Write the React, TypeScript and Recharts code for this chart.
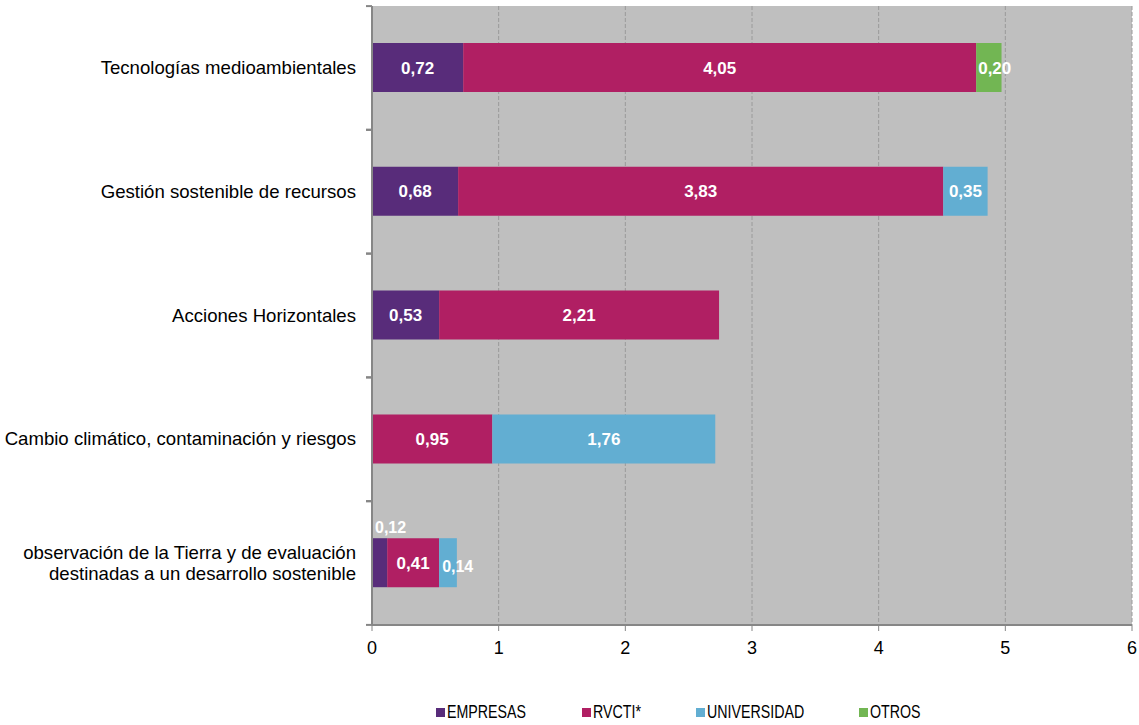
import React from 'react';
import { BarChart, Bar, XAxis, YAxis, CartesianGrid, Legend, LabelList } from 'recharts';

const categories = [
  'Tecnologías medioambientales',
  'Gestión sostenible de recursos',
  'Acciones Horizontales',
  'Cambio climático, contaminación y riesgos',
  'observación de la Tierra y de evaluación\ndestinadas a un desarrollo sostenible',
];
const empresas = [0.72, 0.68, 0.53, null, 0.12];
const rvcti = [4.05, 3.83, 2.21, 0.95, 0.41];
const universidad = [null, 0.35, null, 1.76, 0.14];
const otros = [0.2, null, null, null, null];
const xTicks = [0, 1, 2, 3, 4, 5, 6];

const seriesNames = ['EMPRESAS', 'RVCTI*', 'UNIVERSIDAD', 'OTROS'];
const colors = ['#582c7a', '#b01f63', '#62aed2', '#72b653'];
const legendWidths = [146, 114, 163, 80];

const data = categories.map((c, i) => ({
  cat: c,
  EMPRESAS: empresas[i],
  'RVCTI*': rvcti[i],
  UNIVERSIDAD: universidad[i],
  OTROS: otros[i],
}));

const FONT = '"Liberation Sans", Arial, sans-serif';
const fmt = (v: number) => v.toFixed(2).replace('.', ',');

const makeLabel = (mode: 'above' | 'right' | 'center' | 'start') => (props: any) => {
  const { x, y, width, height, value } = props;
  if (value == null || value === 0) return null;
  const nx = Number(x), ny = Number(y), nw = Number(width), nh = Number(height);
  const small = Number(value) < 0.15;
  if (small && mode === 'above') {
    return (
      <text x={nx + 3} y={ny - 5} fill="#fff" fontFamily={FONT} fontWeight="bold" fontSize={16} textAnchor="start">
        {fmt(value)}
      </text>
    );
  }
  if (small && mode === 'right') {
    return (
      <text x={nx + 3} y={ny + nh / 2 + 9.5} fill="#fff" fontFamily={FONT} fontWeight="bold" fontSize={16} textAnchor="start">
        {fmt(value)}
      </text>
    );
  }
  if (mode === 'start') {
    return (
      <text x={nx + 2} y={ny + nh / 2 + 6} fill="#fff" fontFamily={FONT} fontWeight="bold" fontSize={17} textAnchor="start">
        {fmt(value)}
      </text>
    );
  }
  return (
    <text x={nx + nw / 2} y={ny + nh / 2 + 6} fill="#fff" fontFamily={FONT} fontWeight="bold" fontSize={17} textAnchor="middle">
      {fmt(value)}
    </text>
  );
};

const YTick = (props: any) => {
  const { x, y, payload } = props;
  const lines = String(payload.value).split('\n');
  const lh = 21;
  const start = y - ((lines.length - 1) * lh) / 2;
  const ax = x + 16;
  return (
    <g>
      <line x1={ax - 6} x2={ax} y1={y - 61.8} y2={y - 61.8} stroke="#868686" strokeWidth={2} />
      <line x1={ax - 6} x2={ax} y1={y + 61.8} y2={y + 61.8} stroke="#868686" strokeWidth={2} />
      {lines.map((l, i) => (
        <text key={i} x={x} y={start + i * lh} dy={6} textAnchor="end" fontFamily={FONT} fontSize={18.6} fill="#000">
          {l}
        </text>
      ))}
    </g>
  );
};

const LegendContent = () => (
  <div style={{ display: 'flex', justifyContent: 'flex-start', paddingLeft: 436, height: 20, alignItems: 'center', fontFamily: FONT, fontSize: 18, color: '#000', position: 'relative', top: 2 }}>
    {seriesNames.map((n, i) => (
      <div key={n} style={{ width: legendWidths[i], display: 'flex', alignItems: 'center' }}>
        <span style={{ display: 'inline-block', width: 9, height: 9, background: colors[i], marginRight: 2, flex: 'none' }} />
        <span style={{ display: 'inline-block', transform: 'scaleX(0.79)', transformOrigin: 'left center', whiteSpace: 'nowrap' }}>{n}</span>
      </div>
    ))}
  </div>
);

export default function App() {
  return (
    <div style={{ position: 'absolute', left: 0, top: 0, background: '#fff' }}>
      <BarChart
        width={1139}
        height={725}
        data={data}
        layout="vertical"
        margin={{ top: 6, right: 7, bottom: 5, left: 0 }}
        barSize={49}
      >
        <CartesianGrid horizontal={false} stroke="#9a9a9a" strokeDasharray="4 2" fill="#bfbfbf" />
        <XAxis
          type="number"
          domain={[0, 6]}
          ticks={xTicks}
          height={75}
          axisLine={{ stroke: '#868686', strokeWidth: 2 }}
          tickLine={{ stroke: '#868686' }}
          tickSize={6}
          tickMargin={10}
          tick={{ fontFamily: FONT, fontSize: 18, fill: '#000' }}
        />
        <YAxis
          type="category"
          dataKey="cat"
          width={372}
          axisLine={{ stroke: '#868686', strokeWidth: 2 }}
          tickLine={false}
          tickSize={6}
          tickMargin={10}
          tick={<YTick />}
        />
        <Legend verticalAlign="bottom" content={<LegendContent />} />
        <Bar dataKey="EMPRESAS" stackId="a" fill={colors[0]} isAnimationActive={false}>
          <LabelList dataKey="EMPRESAS" content={makeLabel('above')} />
        </Bar>
        <Bar dataKey="RVCTI*" stackId="a" fill={colors[1]} isAnimationActive={false}>
          <LabelList dataKey="RVCTI*" content={makeLabel('center')} />
        </Bar>
        <Bar dataKey="UNIVERSIDAD" stackId="a" fill={colors[2]} isAnimationActive={false}>
          <LabelList dataKey="UNIVERSIDAD" content={makeLabel('right')} />
        </Bar>
        <Bar dataKey="OTROS" stackId="a" fill={colors[3]} isAnimationActive={false}>
          <LabelList dataKey="OTROS" content={makeLabel('start')} />
        </Bar>
      </BarChart>
    </div>
  );
}
